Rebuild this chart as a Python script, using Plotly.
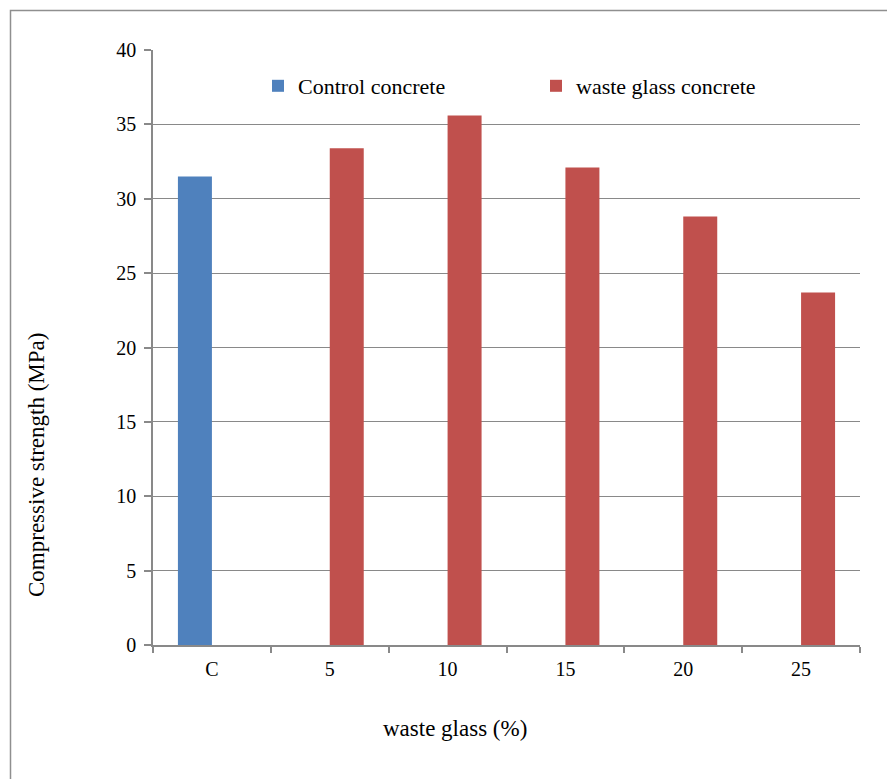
import plotly.graph_objects as go

# Compressive strength by waste glass content
categories = ["C", "5", "10", "15", "20", "25"]
control_strength = [31.5, None, None, None, None, None]
glass_strength = [None, 33.4, 35.6, 32.1, 28.8, 23.7]

W, H = 887, 779
L, R, T, B = 153, 27, 50, 134
PW, PH = W - L - R, H - T - B


def px_x(x):
    return (x - L) / PW


def px_y(y):
    return (H - B - y) / PH


FONT = "Liberation Serif"
GRID = "#898989"

fig = go.Figure()
fig.add_trace(go.Bar(x=categories, y=control_strength, name="Control concrete",
                     marker=dict(color="#4F81BD", line=dict(width=0))))
fig.add_trace(go.Bar(x=categories, y=glass_strength, name="waste glass concrete",
                     marker=dict(color="#C0504D", line=dict(width=0))))

fig.update_layout(
    width=W, height=H,
    margin=dict(l=L, r=R, t=T, b=B, pad=0),
    paper_bgcolor="white", plot_bgcolor="white",
    barmode="group", bargap=0.423, bargroupgap=0,
    font=dict(family=FONT, size=20, color="black"),
    showlegend=True,
    legend=dict(orientation="h", x=px_x(258), xanchor="left",
                y=px_y(86), yanchor="middle",
                font=dict(size=22, family=FONT),
                entrywidth=233, entrywidthmode="pixels",
                bgcolor="rgba(0,0,0,0)", traceorder="normal"),
    xaxis=dict(type="category", showline=True, linecolor=GRID, linewidth=1.5,
               ticks="outside", tickson="boundaries", ticklen=6, tickcolor=GRID,
               tickwidth=1.5, showgrid=False, tickfont=dict(size=20, family=FONT),
               ticklabelstandoff=5),
    yaxis=dict(range=[0, 40], dtick=5, showline=True, linecolor=GRID, linewidth=1.5,
               ticks="outside", ticklen=7, tickcolor=GRID, tickwidth=1.5,
               showgrid=True, gridcolor=GRID, gridwidth=1.3, zeroline=False,
               tickfont=dict(size=20, family=FONT), ticklabelstandoff=4),
    shapes=[dict(type="rect", xref="paper", yref="paper",
                 x0=px_x(10.5), x1=px_x(905), y0=px_y(795), y1=px_y(10.5),
                 line=dict(color="#8f8f8f", width=1.5), layer="below")],
    annotations=[
        dict(text="waste glass (%)", xref="paper", yref="paper",
             x=px_x(455), y=px_y(728), xanchor="center", yanchor="middle",
             showarrow=False, font=dict(size=23, family=FONT)),
        dict(text="Compressive strength (MPa)", xref="paper", yref="paper",
             x=px_x(36), y=px_y(465), xanchor="center", yanchor="middle",
             textangle=-90, showarrow=False, font=dict(size=23, family=FONT)),
    ],
)

fig.write_html("out.html")
